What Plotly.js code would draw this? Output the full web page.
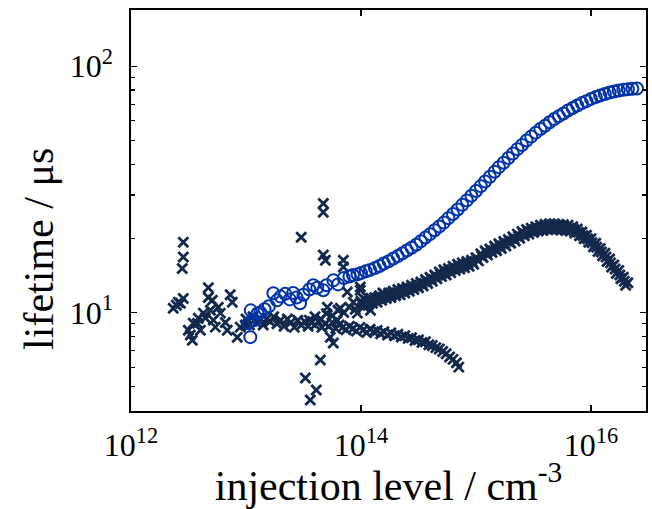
<!DOCTYPE html>
<html>
<head>
<meta charset="utf-8">
<script src="https://cdn.plot.ly/plotly-3.0.1.min.js"></script>
<style>html,body{margin:0;padding:0;background:#fff;}#chart{width:652px;height:509px;}</style>
</head>
<body>
<div id="chart"></div>
<script>
// ---- data (injection level in cm^-3, lifetime in µs) ----
// Open circles (blue)
const circleInj = [
  1.05e13,1.09e13,1.10e13,1.17e13,1.26e13,1.33e13,1.45e13,1.58e13,1.73e13,1.86e13,
  2.00e13,2.19e13,2.40e13,2.57e13,2.75e13,2.95e13,3.16e13,3.55e13,3.85e13,4.17e13,
  4.70e13,5.01e13,5.75e13,6.31e13,7.08e13,7.94e13,8.51e13,9.33e13,
  1.00e14,1.10e14,1.20e14,1.32e14,1.45e14,1.58e14,1.74e14,1.91e14,2.09e14,2.29e14,
  2.51e14,2.75e14,3.02e14,3.31e14,3.63e14,3.98e14,4.37e14,4.79e14,5.25e14,5.75e14,
  6.31e14,6.92e14,7.59e14,8.32e14,9.12e14,
  1.00e15,1.10e15,1.20e15,1.32e15,1.45e15,1.58e15,1.74e15,1.91e15,2.09e15,2.29e15,
  2.51e15,2.75e15,3.02e15,3.31e15,3.63e15,3.98e15,4.37e15,4.79e15,5.25e15,5.75e15,
  6.31e15,6.92e15,7.59e15,8.32e15,9.12e15,
  1.00e16,1.10e16,1.20e16,1.32e16,1.45e16,1.58e16,1.74e16,1.91e16,2.09e16,2.29e16,2.51e16
];
const circleTau = [
  9.05,7.94,10.2,9.3,9.9,10.0,10.3,10.6,11.97,11.2,
  11.6,11.9,11.3,12.0,11.5,10.9,11.8,12.4,12.9,12.6,
  12.3,12.9,13.5,13.0,13.8,14.0,14.2,14.3,
  14.45,14.69,14.89,15.14,15.45,15.81,16.14,16.56,16.94,17.38,
  17.86,18.32,18.84,19.45,20.14,20.80,21.58,22.34,23.17,24.15,
  25.12,26.18,27.35,28.51,29.79,
  31.12,32.58,34.04,35.56,37.24,38.90,40.55,42.36,44.16,46.03,
  47.86,49.89,51.76,53.70,55.59,57.28,59.16,60.95,62.66,64.27,
  66.07,67.61,69.18,70.79,72.11,
  73.62,74.99,76.03,77.09,78.16,78.89,79.62,80.17,80.54,80.91,81.10
];

// Crosses: low-injection scatter and falling branch
const crossFallInj = [
  2.33e12,2.48e12,2.58e12,2.69e12,2.85e12,2.85e12,2.85e12,2.79e12,3.15e12,3.28e12,
  3.41e12,3.48e12,3.78e12,3.85e12,4.01e12,4.26e12,4.43e12,4.70e12,4.70e12,4.90e12,
  5.09e12,5.20e12,5.41e12,5.74e12,5.98e12,6.61e12,6.87e12,7.29e12,7.60e12,8.39e12,
  8.91e12,9.86e12,
  3.02e13,4.70e13,4.70e13,4.70e13,4.90e13,7.02e13,7.02e13,7.60e13,5.09e13,6.61e13,
  9.86e13,1.05e14,9.29e13,1.21e14,5.74e13,5.41e13,4.43e13,3.28e13,4.08e13,3.62e13,
  9.86e13,8.57e13,6.22e13,1.41e14,1.55e14,
  1.00e13,1.07e13,1.15e13,1.23e13,1.32e13,1.41e13,1.51e13,1.62e13,1.74e13,1.86e13,
  2.00e13,2.14e13,2.29e13,2.45e13,2.63e13,2.82e13,3.02e13,3.24e13,3.47e13,3.72e13,
  3.98e13,4.27e13,4.57e13,4.90e13,5.25e13,5.62e13,6.03e13,6.46e13,6.92e13,7.41e13,
  7.94e13,8.51e13,9.12e13,9.77e13,1.05e14,1.12e14,1.20e14,1.29e14,1.38e14,1.48e14,
  1.58e14,1.70e14,1.82e14,1.95e14,2.09e14,2.24e14,2.40e14,2.57e14,2.75e14,2.95e14,
  3.16e14,3.39e14,3.63e14,3.89e14,4.17e14,4.47e14,4.79e14,5.13e14,5.50e14,5.89e14,
  6.31e14,6.76e14,7.08e14
];
const crossFallTau = [
  10.4,10.7,11.0,10.9,11.4,19.3,16.8,15.1,8.47,8.1,
  7.72,9.05,9.05,9.48,8.47,9.94,9.5,12.6,11.5,10.2,
  11.2,9.31,8.72,10.5,9.94,9.1,8.47,11.8,11.0,7.94,
  8.72,8.9,
  20.2,27.7,25.5,17.1,16.3,16.3,15.3,12.1,10.5,10.4,
  12.3,11.4,9.94,10.2,7.52,7.94,6.41,5.42,4.84,4.41,
  12.7,11.0,9.3,11.5,12.0,
  9.4,8.9,9.6,9.1,9.5,8.9,9.4,9.2,9.6,9.0,
  9.3,8.8,9.4,9.1,8.7,9.3,8.9,9.2,8.8,9.1,
  8.9,9.2,8.7,9.0,8.8,9.1,8.6,8.9,8.7,8.5,
  8.8,8.6,8.4,8.7,8.5,8.3,8.55,8.35,8.45,8.2,
  8.35,8.1,8.25,8.05,8.15,7.95,8.05,7.85,7.9,7.7,
  7.75,7.55,7.6,7.4,7.35,7.2,7.1,6.95,6.8,6.6,
  6.45,6.25,6.0
];

// Crosses: rising branch (three interleaved sweeps)
const crossRiseInj = [
  3.55e13,3.98e13,4.47e13,5.01e13,5.62e13,6.31e13,7.08e13,7.94e13,8.91e13,
  1.00e14,1.10e14,1.20e14,1.32e14,1.45e14,1.58e14,1.74e14,1.91e14,2.09e14,2.29e14,
  2.51e14,2.75e14,3.02e14,3.31e14,3.63e14,3.98e14,4.37e14,4.79e14,5.25e14,5.75e14,
  6.31e14,6.92e14,7.59e14,8.32e14,9.12e14,
  1.00e15,1.10e15,1.20e15,1.32e15,1.45e15,1.58e15,1.74e15,1.91e15,2.09e15,2.29e15,
  2.51e15,2.75e15,3.02e15,3.31e15,3.63e15,3.98e15,4.37e15,4.79e15,5.25e15,5.75e15,
  6.31e15,6.92e15,7.59e15,8.32e15,9.12e15,
  1.00e16,1.10e16,1.20e16,1.32e16,1.45e16,1.58e16,1.74e16,1.91e16,2.09e16
];
const crossRiseTau = [
  9.3,9.6,9.4,9.9,9.7,10.2,10.0,10.5,10.3,
  11.1,11.2,11.4,11.5,11.7,11.9,12.0,12.2,12.4,12.5,
  12.7,12.9,13.1,13.3,13.6,13.9,14.2,14.6,14.9,15.1,
  15.4,15.7,15.9,16.1,16.3,
  16.7,17.3,17.8,18.1,18.6,19.0,19.4,19.8,20.3,20.8,
  21.3,21.7,22.0,22.3,22.6,22.8,22.9,22.9,22.8,22.7,
  22.6,22.3,21.8,21.2,20.6,
  19.9,19.1,18.2,17.4,16.5,15.6,14.8,13.9,13.2
];
const crossRise2Inj = [
  1.05e14,1.15e14,1.26e14,1.38e14,1.51e14,1.66e14,1.82e14,2.00e14,2.19e14,2.40e14,
  2.63e14,2.88e14,3.16e14,3.47e14,3.80e14,4.17e14,4.57e14,5.01e14,5.50e14,6.03e14,
  6.61e14,7.24e14,7.94e14,8.71e14,9.55e14,
  1.05e15,1.15e15,1.26e15,1.38e15,1.51e15,1.66e15,1.82e15,2.00e15,2.19e15,2.40e15,
  2.63e15,2.88e15,3.16e15,3.47e15,3.80e15,4.17e15,4.57e15,5.01e15,5.50e15,6.03e15,
  6.61e15,7.24e15,7.94e15,8.71e15,9.55e15,
  1.05e16,1.15e16,1.26e16,1.38e16,1.51e16,1.66e16,1.82e16,2.00e16
];
const crossRise2Tau = [
  10.6,10.7,10.9,11.0,11.2,11.4,11.5,11.7,11.8,12.0,
  12.2,12.4,12.6,12.8,13.1,13.4,13.7,14.0,14.2,14.5,
  14.8,15.0,15.2,15.4,15.7,
  16.2,16.7,17.1,17.5,17.8,18.2,18.6,19.1,19.5,20.0,
  20.5,20.8,21.1,21.4,21.5,21.7,21.7,21.7,21.6,21.5,
  21.4,21.0,20.5,19.9,19.3,
  18.5,17.7,17.0,16.1,15.3,14.4,13.7,12.9
];
const crossRise3Inj = [
  1.02e14,1.12e14,1.23e14,1.35e14,1.48e14,1.62e14,1.78e14,1.95e14,2.14e14,2.34e14,
  2.57e14,2.82e14,3.09e14,3.39e14,3.72e14,4.07e14,4.47e14,4.90e14,5.37e14,5.89e14,
  6.46e14,7.08e14,7.76e14,8.51e14,9.33e14,
  1.02e15,1.12e15,1.23e15,1.35e15,1.48e15,1.62e15,1.78e15,1.95e15,2.14e15,2.34e15,
  2.57e15,2.82e15,3.09e15,3.39e15,3.72e15,4.07e15,4.47e15,4.90e15,5.37e15,5.89e15,
  6.46e15,7.08e15,7.76e15,8.51e15,9.33e15,
  1.02e16,1.12e16,1.23e16,1.35e16,1.48e16,1.62e16,1.78e16,1.95e16
];
const crossRise3Tau = [
  10.8,10.95,11.1,11.25,11.45,11.6,11.75,11.95,12.1,12.25,
  12.45,12.65,12.85,13.1,13.4,13.7,14.0,14.3,14.55,14.8,
  15.1,15.35,15.55,15.75,16.0,
  16.45,17.0,17.5,17.8,18.2,18.6,19.0,19.4,19.9,20.4,
  20.9,21.3,21.6,21.85,22.05,22.25,22.3,22.3,22.2,22.1,
  21.95,21.7,21.15,20.55,19.9,
  19.2,18.4,17.6,16.8,15.9,15.0,14.2,13.4
];

// tick labels
const xTickVals = [1e12, 1e14, 1e16];
const xTickText = ['10<sup>12</sup>', '10<sup>14</sup>', '10<sup>16</sup>'];
const yTickVals = [10, 100];
const yTickText = ['10<sup>1</sup>', '10<sup>2</sup>'];
const yMinorVals = [5, 6, 7, 8, 9, 20, 30, 40, 50, 60, 70, 80, 90];

const NAVY = '#12284c';
const BLUE = '#0033aa';
const FONT = 'Liberation Serif, Times New Roman, serif';

const crossMarker = {symbol: 'x-thin-open', size: 10, color: NAVY, line: {color: NAVY, width: 2.8}};

const traces = [
  {x: crossFallInj, y: crossFallTau, type: 'scatter', mode: 'markers', name: 'crosses (low / falling)', marker: crossMarker},
  {x: crossRiseInj, y: crossRiseTau, type: 'scatter', mode: 'markers', name: 'crosses (rising)', marker: crossMarker},
  {x: crossRise2Inj, y: crossRise2Tau, type: 'scatter', mode: 'markers', name: 'crosses (rising 2)', marker: crossMarker},
  {x: crossRise3Inj, y: crossRise3Tau, type: 'scatter', mode: 'markers', name: 'crosses (rising 3)', marker: crossMarker},
  {x: circleInj, y: circleTau, type: 'scatter', mode: 'markers', name: 'circles',
   marker: {symbol: 'circle-open', size: 12, color: BLUE, line: {color: BLUE, width: 2}}}
];

const layout = {
  width: 652, height: 509,
  margin: {l: 131, r: 6, t: 10, b: 98},
  paper_bgcolor: '#ffffff', plot_bgcolor: '#ffffff',
  showlegend: false,
  font: {family: FONT, color: '#000', size: 32},
  xaxis: {
    type: 'log', range: [12, 16.478],
    tickvals: xTickVals, ticktext: xTickText,
    ticks: 'inside', ticklen: 6, tickwidth: 1.2, tickcolor: '#000',
    showline: true, linecolor: '#000', linewidth: 1.6, mirror: 'allticks',
    showgrid: false, zeroline: false,
    tickfont: {family: FONT, size: 32, color: '#000'},
    ticklabelstandoff: 5,
    title: {text: 'injection level / cm<sup>-3</sup>', font: {family: FONT, size: 42, color: '#000'}, standoff: 2}
  },
  yaxis: {
    type: 'log', range: [0.6, 2.228],
    tickvals: yTickVals, ticktext: yTickText,
    ticks: 'inside', ticklen: 6, tickwidth: 1.2, tickcolor: '#000',
    minor: {tickvals: yMinorVals, ticks: 'inside', ticklen: 4, tickwidth: 1.2, tickcolor: '#000', showgrid: false},
    showline: true, linecolor: '#000', linewidth: 1.6, mirror: 'allticks',
    showgrid: false, zeroline: false,
    tickfont: {family: FONT, size: 32, color: '#000'},
    ticklabelstandoff: 10
  },
  annotations: [{
    text: 'lifetime / μs', xref: 'paper', yref: 'paper',
    x: -0.18, y: 0.405, xanchor: 'center', yanchor: 'middle',
    textangle: -90, showarrow: false,
    font: {family: FONT, size: 42, color: '#000'}
  }]
};

Plotly.newPlot('chart', traces, layout, {staticPlot: true, displayModeBar: false});
</script>
</body>
</html>
